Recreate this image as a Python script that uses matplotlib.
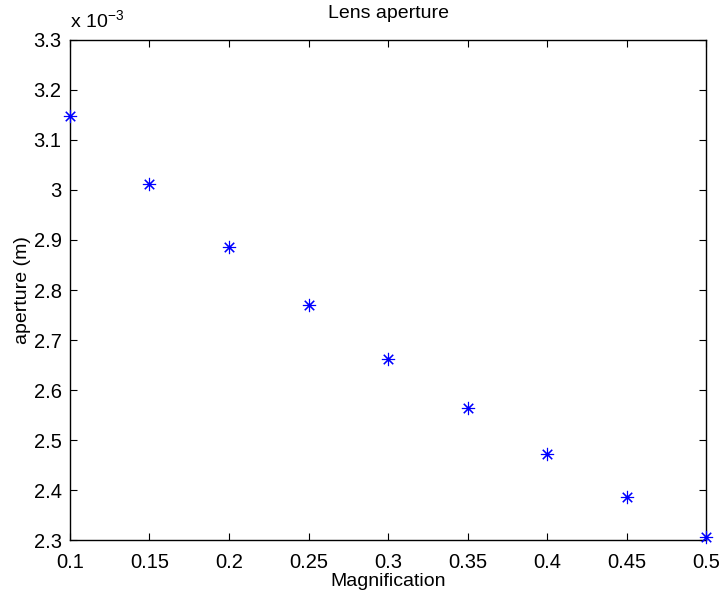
import matplotlib
matplotlib.use("Agg")
import matplotlib.pyplot as plt
from matplotlib.ticker import FuncFormatter, MultipleLocator

plt.rcParams['font.family'] = ['Liberation Sans', 'DejaVu Sans']
plt.rcParams['mathtext.fontset'] = 'custom'
plt.rcParams['mathtext.rm'] = 'Liberation Sans'
plt.rcParams['mathtext.it'] = 'Liberation Sans'
plt.rcParams['mathtext.default'] = 'regular'

# Lens aperture vs. magnification
magnification = [0.10, 0.15, 0.20, 0.25, 0.30, 0.35, 0.40, 0.45, 0.50]
aperture = [3.148e-3, 3.011e-3, 2.885e-3, 2.770e-3, 2.663e-3,
            2.564e-3, 2.472e-3, 2.387e-3, 2.307e-3]

fig = plt.figure(figsize=(7.2, 5.95), dpi=100)
ax = fig.add_axes([0.0972, 0.0924, 0.8834, 0.8404])

ax.plot(magnification, aperture, linestyle='none', marker=(8, 2, 0),
        markersize=9.5, markeredgewidth=0.8, color='#0000ff', clip_on=False,
        zorder=3)

ax.set_xlim(0.1, 0.5)
ax.set_ylim(2.3e-3, 3.3e-3)
ax.xaxis.set_major_locator(MultipleLocator(0.05))
ax.yaxis.set_major_locator(MultipleLocator(0.1e-3))
ax.xaxis.set_major_formatter(FuncFormatter(lambda v, p: '%g' % round(v, 6)))
ax.yaxis.set_major_formatter(FuncFormatter(lambda v, p: '%g' % round(v * 1e3, 6)))

ax.tick_params(direction='in', length=5, width=0.8, top=True, right=True,
               labelsize=14.5, colors='black')
ax.tick_params(axis='x', pad=9)
ax.tick_params(axis='y', pad=6)
for s in ax.spines.values():
    s.set_linewidth(1.0)

ax.set_title('Lens aperture', fontsize=14, pad=16)
ax.set_xlabel('Magnification', fontsize=14, labelpad=1)
ax.set_ylabel('aperture (m)', fontsize=14, labelpad=2)

ax.text(0.0, 1.018, r'x 10$^{-3}$', transform=ax.transAxes, fontsize=14,
        ha='left', va='bottom')

fig.savefig('out.png', dpi=100)
